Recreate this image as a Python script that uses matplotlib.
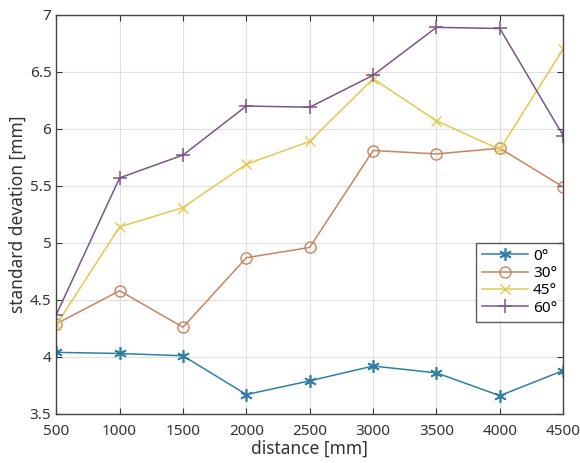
import matplotlib

matplotlib.use('Agg')
import matplotlib.pyplot as plt

# distances [mm]
distance = [500, 1000, 1500, 2000, 2500, 3000, 3500, 4000, 4500]

# standard deviation [mm] per tilt angle
std_0 = [4.04, 4.03, 4.01, 3.67, 3.79, 3.92, 3.86, 3.66, 3.88]
std_30 = [4.29, 4.58, 4.26, 4.87, 4.96, 5.81, 5.78, 5.83, 5.49]
std_45 = [4.28, 5.14, 5.31, 5.69, 5.89, 6.44, 6.07, 5.82, 6.70]
std_60 = [4.37, 5.57, 5.77, 6.20, 6.19, 6.47, 6.89, 6.88, 5.94]

labels = ['0°', '30°', '45°', '60°']

plt.rcParams['font.family'] = ['Noto Sans', 'DejaVu Sans']

fig = plt.figure(figsize=(5.8, 4.63), dpi=100)
ax = fig.add_axes([0.097, 0.106, 0.874, 0.862])

ax.plot(distance, std_0, color='#2f7fa8', marker=(6, 2, 0), markersize=9, mew=1.2, lw=1.1, label=labels[0])
ax.plot(distance, std_30, color='#c8845e', marker='o', markersize=8, mfc='none', lw=1.1, label=labels[1])
ax.plot(distance, std_45, color='#e6c84e', marker='x', markersize=7, lw=1.1, label=labels[2])
ax.plot(distance, std_60, color='#7a5688', marker='+', markersize=10, mew=1.1, lw=1.1, label=labels[3])

ax.set_xlim(500, 4500)
ax.set_ylim(3.5, 7)
ax.set_xticks(distance)
ax.set_yticks([3.5, 4, 4.5, 5, 5.5, 6, 6.5, 7])
ax.set_yticklabels(['3.5', '4', '4.5', '5', '5.5', '6', '6.5', '7'])
ax.grid(True, color='#e0e0e0', lw=0.8)
ax.tick_params(direction='in', labelsize=11, top=True, right=True, length=4, colors='#333333', labelcolor='#333333')
ax.tick_params(axis='x', pad=7)
for s in ax.spines.values():
    s.set_color('#444444')
    s.set_linewidth(1.0)

ax.set_xlabel('distance [mm]', fontsize=12.5, color='#333333', labelpad=1)
ax.set_ylabel('standard devation [mm]', fontsize=12.5, color='#333333', labelpad=2)

leg = ax.legend(loc='center right', bbox_to_anchor=(1.0, 0.33), borderaxespad=0,
                fancybox=False, edgecolor='#333333', fontsize=11, handlelength=3.0,
                labelspacing=0.15, borderpad=0.4, handletextpad=0.3)
leg.get_frame().set_linewidth(1.0)

fig.savefig('out.png', dpi=100)
plt.close(fig)
